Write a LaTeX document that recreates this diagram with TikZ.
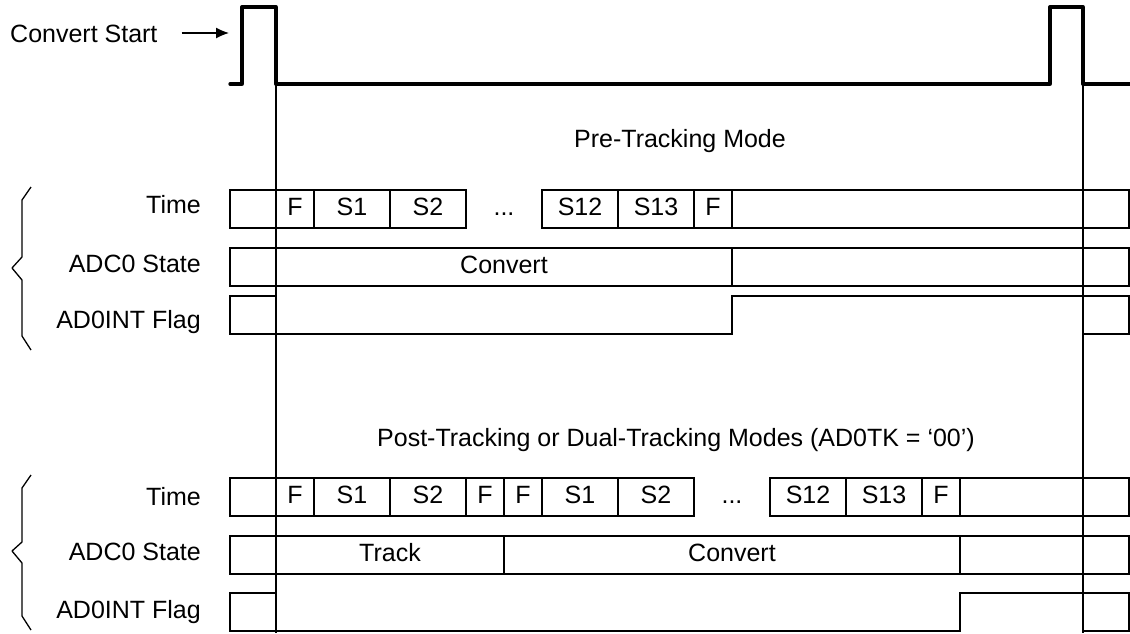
\documentclass[tikz,border=0pt]{standalone}
\usepackage{fontspec}
\setmainfont{Liberation Sans}
\usetikzlibrary{arrows.meta,positioning}

\begin{document}
\begin{tikzpicture}[x=1pt, y=-1pt,
    txt/.style={inner sep=0pt, text height=18pt, text depth=5pt, font=\fontsize{25}{29}\selectfont},
    lbl/.style={txt, anchor=base east},
    cell/.style={txt, draw, line width=1.3pt, outer sep=0pt, minimum height=38pt, anchor=north west},
    pulse/.style={line width=3.3pt, line join=round, line cap=round},
    marker/.style={line width=2pt},
    wave/.style={line width=1.3pt},
    brace/.style={line width=1.3pt, line join=round}]
    \useasboundingbox (0,0) rectangle (1130,633);

    % convert start pulses
    \node[txt, anchor=base west] (cs) at (10,42) {Convert Start};
    \coordinate (cstip) at (229,33);
    \draw[-{Latex[length=13pt,width=11pt]}, line width=1.2pt, shorten <=24pt] (cs.east |- cstip) -- (cstip);
    \coordinate (p1) at (276,84);
    \coordinate (p2) at (1083,84);
    \coordinate (bot) at (0,633);
    \draw[pulse] (230,84) -- (242,84) -- (242,7) -- (276,7) -- (p1) -- (1050,84) -- (1050,7)
        -- (1083,7) -- (p2) -- (1132,84);

    % pre-tracking
    \node[txt, anchor=base] (pre) at (680,147) {Pre-Tracking Mode};
    \node[lbl] (timea) at (201,213) {Time};
    \node[lbl] (statea) at (201,272) {ADC0 State};
    \node[lbl] (flaga) at (201,328) {AD0INT Flag};
    \foreach \x/\w/\txt [count=\i] in {230/46/{}, 276/38/F, 314/76/S1, 390/76/S2, 542/76/S12,
        618/76/S13, 694/38/F, 732/351/{}, 1083/46/{}}
        \node[cell, minimum width=\w pt] (ta\i) at (\x,190) {\txt};
    \node[txt] (dotsa) at (504,209) {...};
    \foreach \x/\w/\txt [count=\i] in {230/46/{}, 276/456/Convert, 732/351/{}, 1083/46/{}}
        \node[cell, minimum width=\w pt] (sa\i) at (\x,248) {\txt};
    \node[cell, minimum width=46pt] (fa1) at (230,296) {};
    \node[cell, minimum width=46pt] (fa2) at (1083,296) {};
    \draw[wave] (fa1.south east) -- (fa1.south east -| sa3.west) |- (fa2.north west);
    \draw[brace] (31,187) -- (22,200) -- (22,257) -- (12,268) -- (22,280) -- (22,336) -- (31,350);

    % post-tracking / dual-tracking
    \node[txt, anchor=base] (post) at (676,446) {Post-Tracking or Dual-Tracking Modes (AD0TK = ‘00’)};
    \node[lbl] (timeb) at (201,505) {Time};
    \node[lbl] (stateb) at (201,560) {ADC0 State};
    \node[lbl] (flagb) at (201,618) {AD0INT Flag};
    \foreach \x/\w/\txt [count=\i] in {230/46/{}, 276/38/F, 314/76/S1, 390/76/S2, 466/38/F,
        504/38/F, 542/76/S1, 618/76/S2, 770/76/S12, 846/76/S13, 922/38/F, 960/123/{}, 1083/46/{}}
        \node[cell, minimum width=\w pt] (tb\i) at (\x,478) {\txt};
    \node[txt] (dotsb) at (732,497) {...};
    \foreach \x/\w/\txt [count=\i] in {230/46/{}, 276/228/Track, 504/456/Convert, 960/123/{}, 1083/46/{}}
        \node[cell, minimum width=\w pt] (sb\i) at (\x,536) {\txt};
    \node[cell, minimum width=46pt] (fb1) at (230,593) {};
    \node[cell, minimum width=46pt] (fb2) at (1083,593) {};
    \draw[wave] (fb1.south east) -- (fb1.south east -| sb4.west) |- (fb2.north west);
    \draw[brace] (31,475) -- (22,488) -- (22,542) -- (12,551) -- (22,563) -- (22,616) -- (31,630);

    % sample markers
    \draw[marker] (p1) -- (p1 |- bot);
    \draw[marker] (p2) -- (p2 |- bot);
\end{tikzpicture}
\end{document}
